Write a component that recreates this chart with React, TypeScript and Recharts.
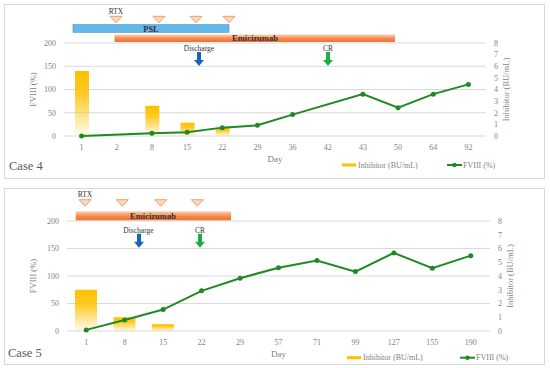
import { Bar, CartesianGrid, ComposedChart, Line, XAxis, YAxis } from "recharts";

const case4Days = ["1", "2", "8", "15", "22", "29", "36", "42", "43", "50", "64", "92"];
const case4Fviii = [0, null, 6, 8, 18, 23, 46, null, 90, 61, 90, 111];
const case4Inhibitor = [5.6, null, 2.6, 1.15, 0.7, null, null, null, null, null, null, null];

const case5Days = ["1", "8", "15", "22", "29", "57", "71", "99", "127", "155", "190"];
const case5Fviii = [2, 20, 39, 73, 96, 115, 128, 108, 142, 114, 137];
const case5Inhibitor = [3.0, 1.0, 0.5, null, null, null, null, null, null, null, null];

const fviiiTicks = [0, 50, 100, 150, 200];
const inhibitorTicks = [0, 1, 2, 3, 4, 5, 6, 7, 8];

const font = "'Liberation Serif', 'DejaVu Serif', serif";
const gray = "#7f7f7f";
const green = "#1f8a23";
const gold = "#FFC000";

function DownArrow({ cx, y, color }: { cx: number; y: number; color: string }) {
  return (
    <path
      d={`M${cx - 2},${y} L${cx + 2},${y} L${cx + 2},${y + 8} L${cx + 5},${y + 8} L${cx},${y + 14} L${cx - 5},${y + 8} L${cx - 2},${y + 8} Z`}
      fill={color}
    />
  );
}

function Triangle({ cx, y }: { cx: number; y: number }) {
  return (
    <path
      d={`M${cx - 6},${y} L${cx + 6},${y} L${cx},${y + 6.5} Z`}
      fill="#fcd9bf"
      stroke="#f08a4b"
      strokeWidth={0.8}
    />
  );
}

function Legend({ y, swatchX, lineX }: { y: number; swatchX: number; lineX: number }) {
  return (
    <g fontFamily={font} fontSize={8} fill={gray}>
      <rect x={swatchX} y={y - 1.5} width={14} height={3} fill={gold} />
      <text x={swatchX + 16} y={y} dominantBaseline="central">Inhibitor (BU/mL)</text>
      <line x1={lineX} x2={lineX + 15} y1={y} y2={y} stroke={green} strokeWidth={2} />
      <circle cx={lineX + 7.5} cy={y} r={2.2} fill={green} />
      <text x={lineX + 16} y={y} dominantBaseline="central">FVIII (%)</text>
    </g>
  );
}

type PanelProps = {
  id: string;
  top: number;
  days: string[];
  fviii: (number | null)[];
  inhibitor: (number | null)[];
  margin: { top: number; right: number; bottom: number; left: number };
  barSize: number;
  leftOffset: number;
  rightOffset: number;
  children?: React.ReactNode;
};

function CasePanel({ id, top, days, fviii, inhibitor, margin, barSize, leftOffset, rightOffset, children }: PanelProps) {
  const data = days.map((day, i) => ({ day, fviii: fviii[i], inhibitor: inhibitor[i] }));
  const tick = { fontSize: 8, fill: gray, fontFamily: font };
  const titleStyle = { fontSize: 8.5, fill: gray, fontFamily: font, textAnchor: "middle" as const };
  return (
    <div style={{ position: "absolute", left: 0, top, width: 550, height: 184 }}>
      <ComposedChart width={550} height={184} data={data} margin={margin}>
        <defs>
          <linearGradient id={`inh-${id}`} x1="0" y1="0" x2="0" y2="1">
            <stop offset="0%" stopColor={gold} />
            <stop offset="35%" stopColor={gold} stopOpacity={0.85} />
            <stop offset="100%" stopColor={gold} stopOpacity={0.05} />
          </linearGradient>
        </defs>
        <CartesianGrid yAxisId="left" vertical={false} stroke="#d9d9d9" />
        <XAxis
          dataKey="day"
          axisLine={false}
          tickLine={false}
          height={20}
          interval={0}
          tick={tick}
          label={{ value: "Day", position: "bottom", offset: 0, style: { fontSize: 9, fill: gray, fontFamily: font } }}
        />
        <YAxis
          yAxisId="left"
          width={44}
          domain={[0, 200]}
          ticks={fviiiTicks}
          interval={0}
          axisLine={false}
          tickLine={false}
          tick={tick}
          label={{ value: "FVIII (%)", angle: -90, position: "insideLeft", offset: leftOffset, style: titleStyle }}
        />
        <YAxis
          yAxisId="right"
          orientation="right"
          width={44}
          domain={[0, 8]}
          ticks={inhibitorTicks}
          interval={0}
          axisLine={false}
          tickLine={false}
          tick={tick}
          label={{ value: "Inhibitor (BU/mL)", angle: -90, position: "insideLeft", offset: rightOffset, style: titleStyle }}
        />
        <Bar yAxisId="right" dataKey="inhibitor" barSize={barSize} fill={`url(#inh-${id})`} isAnimationActive={false} />
        <Line
          yAxisId="left"
          dataKey="fviii"
          type="linear"
          stroke={green}
          strokeWidth={2}
          connectNulls
          dot={{ r: 2.5, fill: green, stroke: green, strokeWidth: 0 }}
          isAnimationActive={false}
        />
      </ComposedChart>
      <svg width={550} height={184} style={{ position: "absolute", left: 0, top: 0, pointerEvents: "none" }}>
        <defs>
          <linearGradient id={`emi-${id}`} x1="0" y1="0" x2="0" y2="1">
            <stop offset="0%" stopColor="#fbd2b6" />
            <stop offset="55%" stopColor="#f4874b" />
            <stop offset="100%" stopColor="#ee7232" />
          </linearGradient>
        </defs>
        {children}
      </svg>
    </div>
  );
}

export default function App() {
  const label = { fontFamily: font, fontSize: 7.5, fill: "#333", textAnchor: "middle" as const };
  const bold = { fontFamily: font, fontSize: 8.5, fill: "#333", fontWeight: 700, textAnchor: "middle" as const };
  return (
    <div style={{ position: "absolute", left: 0, top: 0, width: 550, height: 368, background: "#fff" }}>
      <CasePanel
        id="c4"
        top={0}
        days={case4Days}
        fviii={case4Fviii}
        inhibitor={case4Inhibitor}
        margin={{ top: 43, right: 20, bottom: 28, left: 20 }}
        barSize={14}
        leftOffset={13}
        rightOffset={20}
      >
        <rect x={4.5} y={4.5} width={540} height={174} fill="none" stroke="#d9d9d9" />
        <text x={116} y={11.5} dominantBaseline="central" {...label}>RTX</text>
        {[116, 159, 196, 229].map((cx) => (
          <Triangle key={cx} cx={cx} y={16.3} />
        ))}
        <rect x={73} y={24.7} width={156} height={7.6} fill="#62b8e8" stroke="#3a8fc9" strokeWidth={0.6} />
        <text x={151} y={28.7} dominantBaseline="central" {...bold}>PSL</text>
        <rect x={114.5} y={34.5} width={280.5} height={7.5} fill="url(#emi-c4)" />
        <text x={255} y={38.3} dominantBaseline="central" {...bold}>Emicizumab</text>
        <text x={199} y={48.5} dominantBaseline="central" {...label}>Discharge</text>
        <DownArrow cx={199} y={52} color="#1565c0" />
        <text x={328} y={48.5} dominantBaseline="central" {...label}>CR</text>
        <DownArrow cx={328} y={52} color="#1fae45" />
        <text x={9} y={166} dominantBaseline="central" fontFamily={font} fontSize={12.5} fill="#595959">Case 4</text>
        <Legend y={165} swatchX={342} lineX={447} />
      </CasePanel>
      <CasePanel
        id="c5"
        top={184}
        days={case5Days}
        fviii={case5Fviii}
        inhibitor={case5Inhibitor}
        margin={{ top: 37, right: 16, bottom: 17, left: 23 }}
        barSize={22}
        leftOffset={10}
        rightOffset={20}
      >
        <rect x={4.5} y={4.5} width={540} height={176} fill="none" stroke="#d9d9d9" />
        <text x={85} y={10.7} dominantBaseline="central" {...label}>RTX</text>
        {[85, 122.3, 160.7, 197.3].map((cx) => (
          <Triangle key={cx} cx={cx} y={15.7} />
        ))}
        <rect x={75.7} y={27.3} width={155.3} height={9} fill="url(#emi-c5)" />
        <text x={153} y={31.8} dominantBaseline="central" {...bold}>Emicizumab</text>
        <text x={138.5} y={46.7} dominantBaseline="central" {...label}>Discharge</text>
        <DownArrow cx={139} y={49.7} color="#1565c0" />
        <text x={200} y={46.7} dominantBaseline="central" {...label}>CR</text>
        <DownArrow cx={200} y={49.7} color="#1fae45" />
        <text x={8} y={169} dominantBaseline="central" fontFamily={font} fontSize={12.5} fill="#595959">Case 5</text>
        <Legend y={173.7} swatchX={347} lineX={460} />
      </CasePanel>
    </div>
  );
}
